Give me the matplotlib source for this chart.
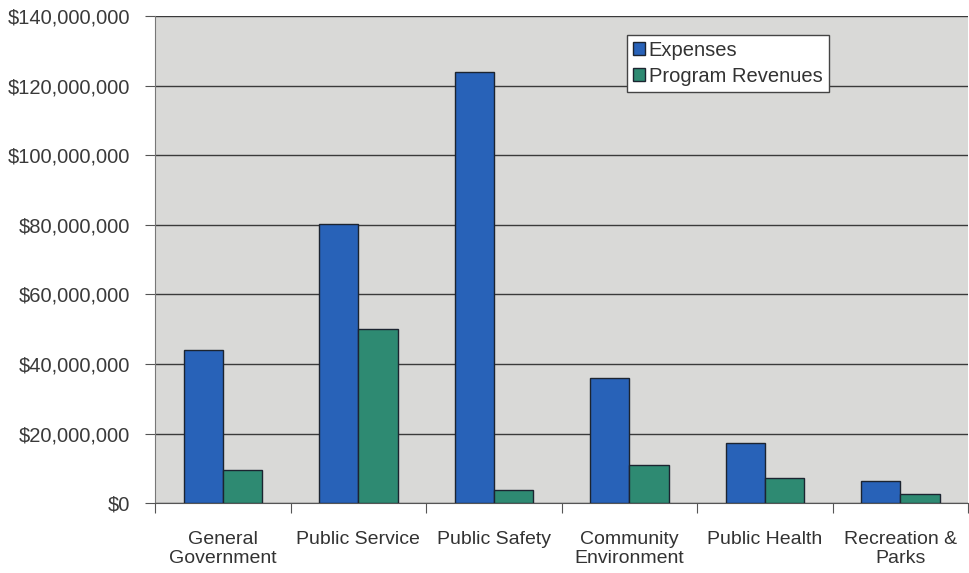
import numpy as np
import matplotlib
matplotlib.use('Agg')
import matplotlib.pyplot as plt
from matplotlib.ticker import FuncFormatter, MultipleLocator

# 資料
categories = ['General\nGovernment', 'Public Service', 'Public Safety',
              'Community\nEnvironment', 'Public Health', 'Recreation &\nParks']
expenses = [44.0e6, 80.2e6, 123.9e6, 35.9e6, 17.2e6, 6.3e6]
revenues = [9.5e6, 50.0e6, 3.7e6, 10.9e6, 7.2e6, 2.6e6]

plt.rcParams['font.family'] = ['Liberation Sans', 'DejaVu Sans']

fig = plt.figure(figsize=(9.7, 5.73), dpi=100)
ax = fig.add_axes([0.160, 0.122, 0.838, 0.850])
ax.set_facecolor('#d9d9d7')

x = np.arange(len(categories))
w = 0.29
ax.bar(x - w / 2, expenses, w, color='#2862b8', edgecolor='#1c2430', linewidth=1.0,
       label='Expenses', zorder=3)
ax.bar(x + w / 2, revenues, w, color='#2e8a72', edgecolor='#1c2430', linewidth=1.0,
       label='Program Revenues', zorder=3)

ax.set_xlim(-0.5, len(categories) - 0.5)
ax.set_ylim(0, 140e6)
ax.yaxis.set_major_locator(MultipleLocator(20e6))
ax.yaxis.set_major_formatter(FuncFormatter(lambda v, p: f'${v:,.0f}'))
ax.grid(axis='y', color='#3a3a3a', linewidth=1.0, zorder=1)

# 類別刻度在分組之間
ax.set_xticks(np.arange(len(categories) + 1) - 0.5)
ax.set_xticklabels([])
ax.set_xticks(x, minor=True)
ax.set_xticklabels(categories, minor=True)
ax.tick_params(axis='x', which='minor', length=0, pad=20, labelsize=14, labelcolor='#333333')
ax.tick_params(axis='x', which='major', length=7, color='#555555', direction='out')
ax.tick_params(axis='y', length=7, color='#555555', labelsize=14.5, labelcolor='#3a3a3a', pad=11)

for s in ['top', 'right']:
    ax.spines[s].set_visible(False)
ax.spines['left'].set_color('#777777')
ax.spines['bottom'].set_color('#555555')

leg = ax.legend(loc='upper left', bbox_to_anchor=(0.580, 0.962), fontsize=14.5,
                frameon=True, fancybox=False, edgecolor='#444444', framealpha=1,
                handlelength=0.6, handleheight=0.6, handletextpad=0.2,
                borderpad=0.3, labelspacing=0.35, borderaxespad=0)
leg.get_frame().set_linewidth(1.0)
for t in leg.get_texts():
    t.set_color('#333333')

fig.savefig('out.png', dpi=100)
